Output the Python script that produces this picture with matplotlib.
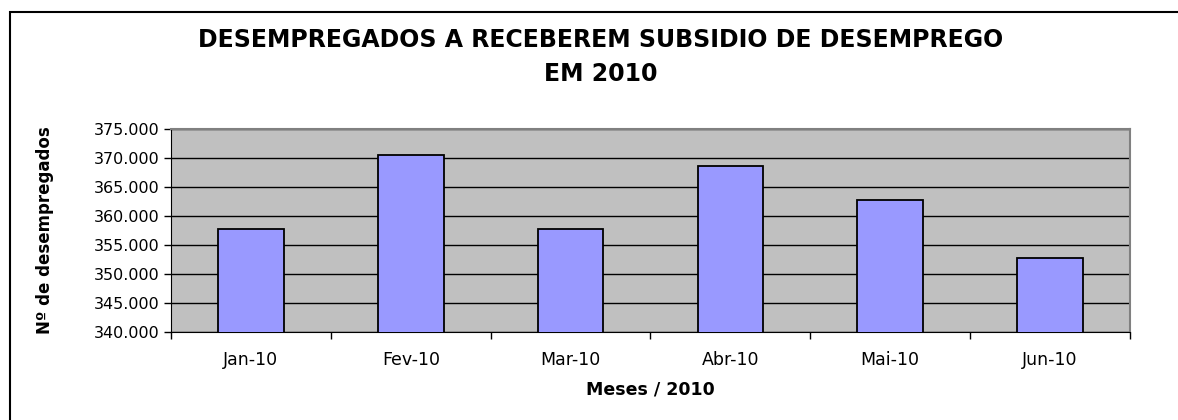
import matplotlib.pyplot as plt
import numpy as np
from matplotlib.ticker import FuncFormatter, FixedLocator
from matplotlib.patches import Rectangle

plt.rcParams['font.family'] = ['DejaVu Sans']

meses = ['Jan-10', 'Fev-10', 'Mar-10', 'Abr-10', 'Mai-10', 'Jun-10']
desempregados = [357700, 370500, 357700, 368700, 362800, 352800]
y_ticks = [340000, 345000, 350000, 355000, 360000, 365000, 370000, 375000]

fig = plt.figure(figsize=(11.78, 4.2), dpi=100)
ax = fig.add_axes([171 / 1178, 88 / 420, 959 / 1178, 203 / 420])

x = np.arange(len(meses))
ax.set_facecolor('#C0C0C0')
ax.bar(x, desempregados, width=0.41, color='#9999FF', edgecolor='black', linewidth=1.3, zorder=3)
ax.set_ylim(340000, 375000)
ax.set_xlim(-0.5, len(meses) - 0.5)

# gridlines
ax.yaxis.set_major_locator(FixedLocator(y_ticks))
ax.grid(axis='y', color='black', linewidth=1, zorder=1)
ax.set_axisbelow(True)
ax.yaxis.set_major_formatter(FuncFormatter(lambda v, p: f'{int(v):,}'.replace(',', '.')))

# category ticks between bars, labels centred
ax.xaxis.set_major_locator(FixedLocator(np.arange(-0.5, len(meses), 1.0)))
ax.xaxis.set_major_formatter(FuncFormatter(lambda v, p: ''))
ax.xaxis.set_minor_locator(FixedLocator(x))
ax.set_xticklabels(meses, minor=True)
ax.tick_params(axis='x', which='minor', length=0, pad=14, labelsize=12.5)
ax.tick_params(axis='x', which='major', length=5, direction='out', width=1)
ax.tick_params(axis='y', length=5, direction='out', width=1, labelsize=11.5, pad=3)

ax.spines['top'].set_color('#808080')
ax.spines['right'].set_color('#808080')
ax.spines['top'].set_linewidth(1.5)
ax.spines['right'].set_linewidth(1.5)

ax.set_xlabel('Meses / 2010', fontsize=12.5, fontweight='bold', labelpad=8)
ax.set_ylabel('Nº de desempregados', fontsize=12, fontweight='bold')
ax.yaxis.label.set_va('center')
ax.yaxis.set_label_coords(-0.131, 0.5)

fig.text(601 / 1178, 1 - 57 / 420, 'DESEMPREGADOS A RECEBEREM SUBSIDIO DE DESEMPREGO\nEM 2010',
         ha='center', va='center', fontsize=17, fontweight='bold', linespacing=1.5)

# outer chart border
fig.patches.append(Rectangle((10 / 1178, -0.05), 1.2, 1 - 12 / 420 + 0.05,
                             transform=fig.transFigure, fill=False, edgecolor='black',
                             linewidth=1.5, clip_on=False))

plt.savefig('out.png', dpi=100)
